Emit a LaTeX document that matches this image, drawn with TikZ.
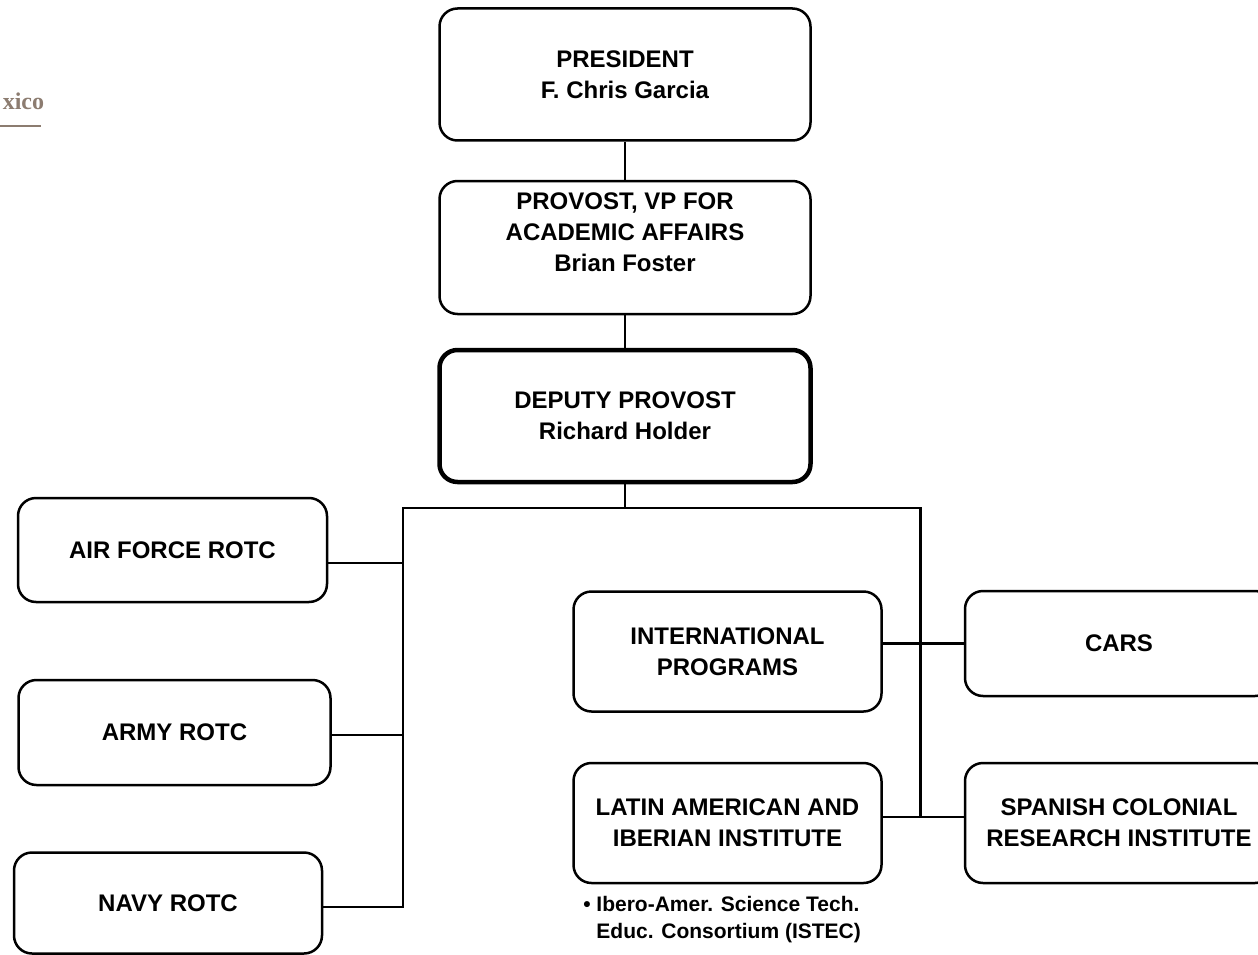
\documentclass[tikz,border=0pt]{standalone}
\usepackage{fontspec}
\setmainfont{Liberation Sans}
\newfontfamily\logofont{Liberation Serif}
\definecolor{logobrown}{RGB}{140,124,112}
\begin{document}
\begin{tikzpicture}[x=1pt, y=-1pt, line width=2.5pt,
  unit/.style={draw, rounded corners=18pt, align=center, inner sep=0pt,
    font=\fontsize{24}{31}\selectfont\bfseries},
  chief/.style={unit, line width=4.5pt}]
  \useasboundingbox (0,0) rectangle (1258,955);
  \node[text=logobrown, anchor=base west, inner sep=0pt,
    font=\logofont\bfseries\fontsize{24}{24}\selectfont] (logo) at (1.5,110) {xico};
  \draw[logobrown, line width=2pt] (0,126) -- (41,126);
  \node[unit, minimum width=371pt, minimum height=132pt] (pres) at (625,74.5) {PRESIDENT\\F. Chris Garcia};
  \node[unit, minimum width=371pt, minimum height=133pt] (prov) at (625,247.5) {PROVOST, VP FOR\\ACADEMIC AFFAIRS\\Brian Foster\\\mbox{}};
  \node[chief, minimum width=371pt, minimum height=132pt] (dep) at (625,416) {DEPUTY PROVOST\\Richard Holder};
  \node[unit, minimum width=309pt, minimum height=104pt] (air) at (172.5,550) {AIR FORCE ROTC};
  \node[unit, minimum width=312pt, minimum height=105pt] (army) at (174.5,732.5) {ARMY ROTC};
  \node[unit, minimum width=308pt, minimum height=101pt] (navy) at (168,903) {NAVY ROTC};
  \node[unit, minimum width=308pt, minimum height=120pt] (intl) at (727.5,651.5) {INTERNATIONAL\\PROGRAMS};
  \node[unit, minimum width=308pt, minimum height=120pt] (lais) at (727.5,823) {LATIN AMERICAN AND\\IBERIAN INSTITUTE};
  \node[unit, minimum width=308pt, minimum height=105pt] (cars) at (1119,643.5) {CARS};
  \node[unit, minimum width=308pt, minimum height=120pt] (scri) at (1119,823) {SPANISH COLONIAL\\RESEARCH INSTITUTE};
  \node[anchor=north west, align=left, inner sep=0pt, font=\fontsize{21}{27}\selectfont\bfseries]
    (istec) at (582,895) {\textbullet\ Ibero-Amer. Science Tech.\\\phantom{\textbullet\ }Educ. Consortium (ISTEC)};
  \coordinate (bl) at (403,508);
  \coordinate (br) at (920.5,508);
  \coordinate (airjoin) at ([yshift=-13pt]air.east);
  \coordinate (armyjoin) at ([yshift=-2.5pt]army.east);
  \coordinate (navyjoin) at ([yshift=-4pt]navy.east);
  \coordinate (laisjoin) at ([yshift=6pt]lais.east);
  \draw (pres) -- (prov);
  \draw (prov) -- (dep);
  \draw (dep) -- (dep |- bl);
  \draw (navyjoin) -| (bl) -- (br) -- (br |- laisjoin);
  \draw (airjoin) -- (airjoin -| bl);
  \draw (armyjoin) -- (armyjoin -| bl);
  \draw (cars.west) -- (cars.west -| intl.east);
  \draw (laisjoin) -- (laisjoin -| scri.west);
\end{tikzpicture}
\end{document}
